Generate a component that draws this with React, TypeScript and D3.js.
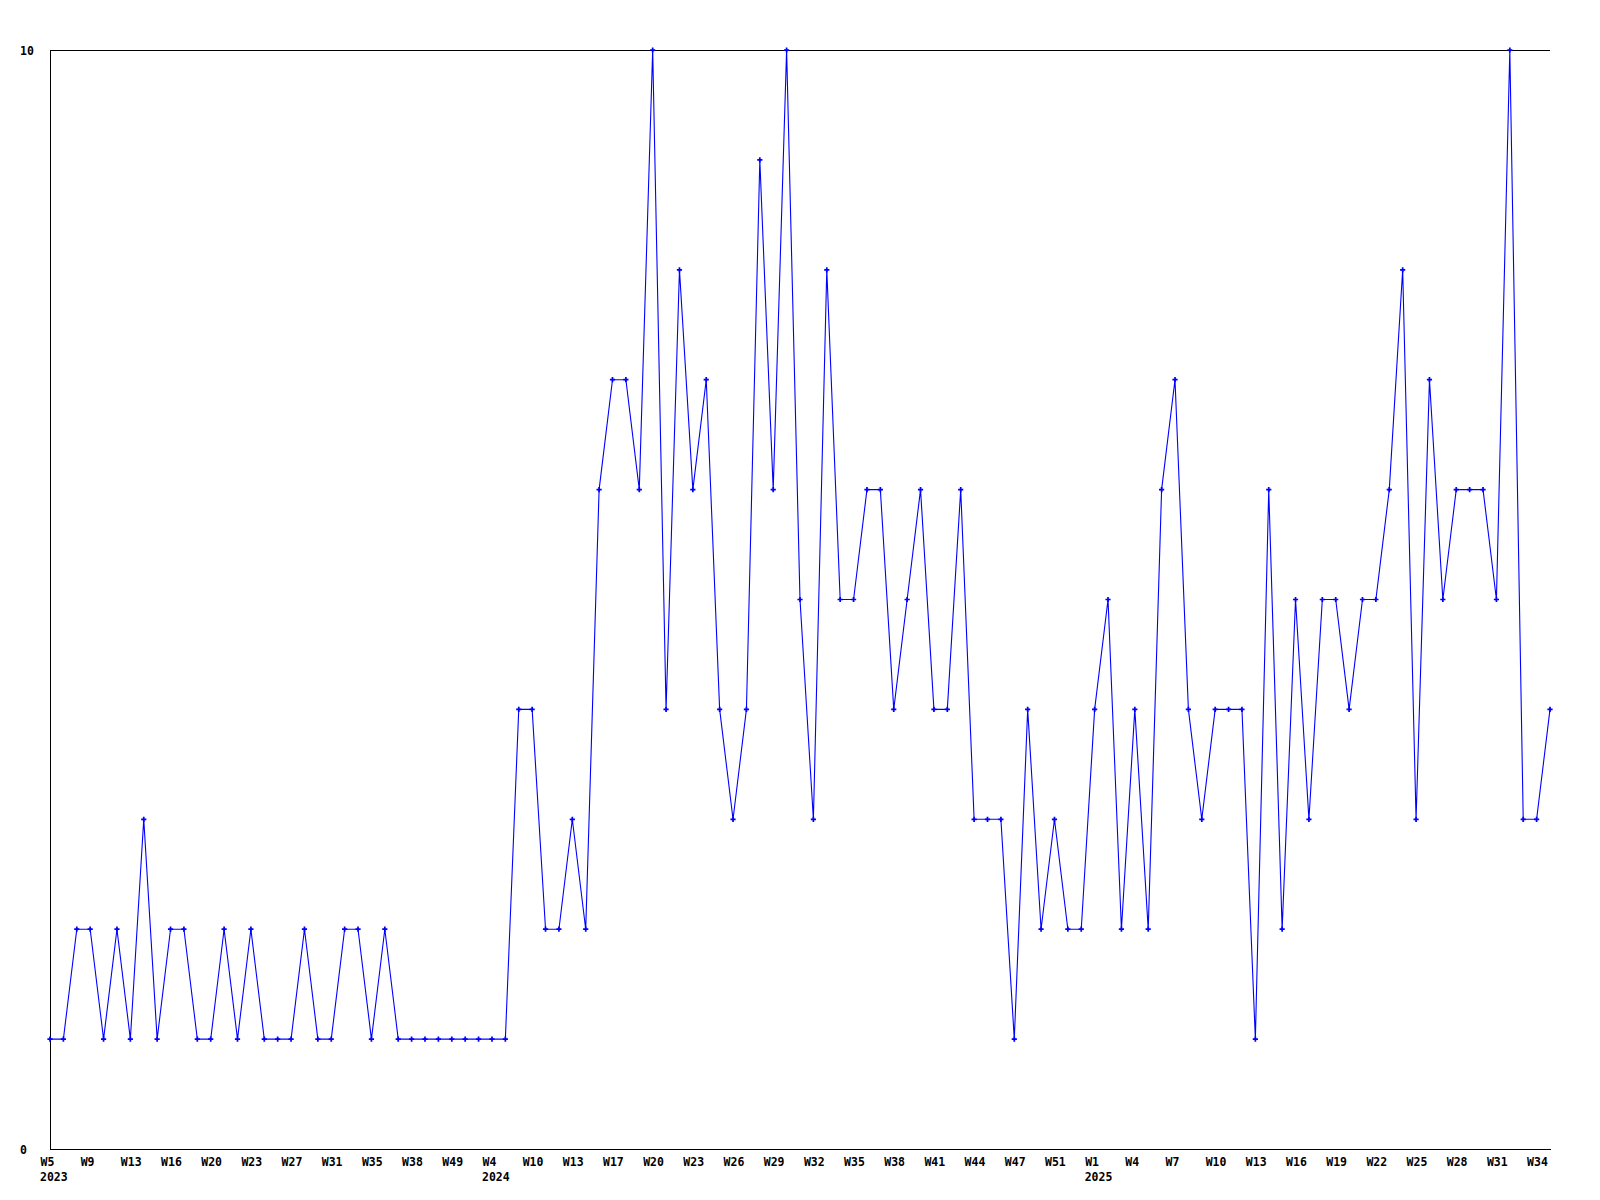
import { useEffect, useRef } from "react";
import * as d3 from "d3";

// weekly counts, one per point (weeks without data are skipped in the source)
const values = [
  1, 1, 2, 2, 1, 2, 1, 3, 1, 2, 2, 1, 1, 2, 1, 2, 1, 1, 1, 2, 1, 1, 2, 2, 1, 2,
  1, 1, 1, 1, 1, 1, 1, 1, 1, 4, 4, 2, 2, 3, 2, 6, 7, 7, 6, 10, 4, 8, 6, 7, 4, 3,
  4, 9, 6, 10, 5, 3, 8, 5, 5, 6, 6, 4, 5, 6, 4, 4, 6, 3, 3, 3, 1, 4, 2, 3, 2, 2,
  4, 5, 2, 4, 2, 6, 7, 4, 3, 4, 4, 4, 1, 6, 2, 5, 3, 5, 5, 4, 5, 5, 6, 8, 3, 7,
  5, 6, 6, 6, 5, 10, 3, 3, 4,
];

// label shown on every third point
const weekLabels = [
  "W5", "W9", "W13", "W16", "W20", "W23", "W27", "W31", "W35", "W38", "W49",
  "W4", "W10", "W13", "W17", "W20", "W23", "W26", "W29", "W32", "W35", "W38",
  "W41", "W44", "W47", "W51", "W1", "W4", "W7", "W10", "W13", "W16", "W19",
  "W22", "W25", "W28", "W31", "W34",
];
const labelStep = 3;

const years = [
  { index: 0, year: "2023" },
  { index: 33, year: "2024" },
  { index: 78, year: "2025" },
];

const yTicks = [0, 10];

export default function App() {
  const svgRef = useRef<SVGSVGElement>(null);

  useEffect(() => {
    if (!svgRef.current) return;
    const svg = d3.select(svgRef.current);
    const width = 1600;
    const height = 1200;
    const margin = { top: 50, right: 50, bottom: 51, left: 50 };
    const font = "'DejaVu Sans Mono', monospace";

    svg.selectAll("*").remove();
    svg.attr("width", width).attr("height", height);

    const x = d3
      .scaleLinear()
      .domain([0, values.length - 1])
      .range([margin.left, width - margin.right]);

    const y = d3
      .scaleLinear()
      .domain([0, 10])
      .range([height - margin.bottom, margin.top]);

    // top border
    svg
      .append("line")
      .attr("x1", margin.left)
      .attr("x2", width - margin.right)
      .attr("y1", y(10))
      .attr("y2", y(10))
      .attr("stroke", "#000")
      .attr("shape-rendering", "crispEdges");

    const tickIdx = weekLabels.map((_, i) => i * labelStep);

    const xAxis = svg
      .append("g")
      .attr("transform", `translate(0,${y(0)})`)
      .call(
        d3
          .axisBottom(x)
          .tickValues(tickIdx)
          .tickSize(0)
          .tickSizeOuter(0)
          .tickFormat((_, i) => weekLabels[i]),
      );
    xAxis.select("path.domain").attr("stroke", "#000").attr("shape-rendering", "crispEdges");
    xAxis
      .selectAll("text")
      .attr("fill", "#000")
      .attr("font-family", font)
      .attr("font-weight", "bold")
      .attr("font-size", 11.5)
      .attr("text-anchor", "start")
      .attr("x", -10)
      .attr("y", 17)
      .attr("dy", 0);

    svg
      .append("g")
      .selectAll("text")
      .data(years)
      .join("text")
      .attr("x", (d) => x(d.index) - 10)
      .attr("y", y(0) + 32)
      .attr("font-family", font)
      .attr("font-weight", "bold")
      .attr("font-size", 11.5)
      .text((d) => d.year);

    const yAxis = svg
      .append("g")
      .attr("transform", `translate(${margin.left},0)`)
      .call(d3.axisLeft(y).tickValues(yTicks).tickSize(0).tickSizeOuter(0));
    yAxis.select("path.domain").attr("stroke", "#000").attr("shape-rendering", "crispEdges");
    yAxis
      .selectAll("text")
      .attr("fill", "#000")
      .attr("font-family", font)
      .attr("font-weight", "bold")
      .attr("font-size", 11.5)
      .attr("text-anchor", "start")
      .attr("x", 20 - margin.left)
      .attr("dy", "0.35em");

    const line = d3
      .line<number>()
      .x((_, i) => x(i))
      .y((d) => y(d));

    svg
      .append("path")
      .datum(values)
      .attr("fill", "none")
      .attr("stroke", "#0000ff")
      .attr("stroke-width", 1.1)
      .attr("d", line);

    const marker = d3.symbol(d3.symbolCross, 15);
    svg
      .append("g")
      .selectAll("path")
      .data(values)
      .join("path")
      .attr("transform", (d, i) => `translate(${x(i)},${y(d)})`)
      .attr("d", marker)
      .attr("fill", "#0000ff");
  }, []);

  return (
    <div style={{ position: "absolute", left: 0, top: 0, background: "#fff" }}>
      <svg ref={svgRef} style={{ display: "block" }} />
    </div>
  );
}
